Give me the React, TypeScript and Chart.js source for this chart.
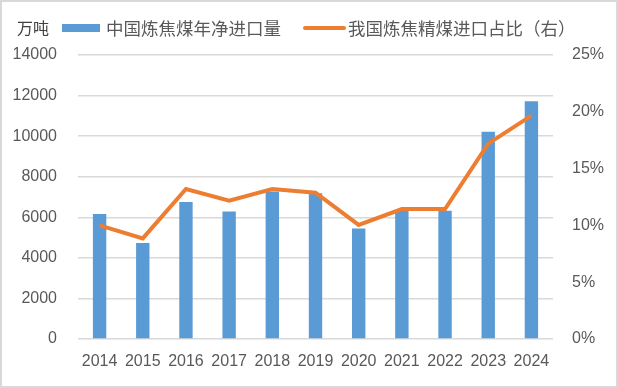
import React, { useEffect, useRef } from "react";
import { Chart, registerables } from "chart.js";

Chart.register(...registerables);

const years = ["2014", "2015", "2016", "2017", "2018", "2019", "2020", "2021", "2022", "2023", "2024"];
const netImports = [6160, 4730, 6750, 6280, 7270, 7180, 5450, 6310, 6320, 10220, 11720];
const importShare = [0.100, 0.0886, 0.132, 0.1217, 0.132, 0.1288, 0.1004, 0.1144, 0.1144, 0.172, 0.1966];
const barLabel = "中国炼焦煤年净进口量";
const lineLabel = "我国炼焦精煤进口占比（右）";
const unitLabel = "万吨";

const BLUE = "#5B9BD5";
const ORANGE = "#ED7D31";
const TEXT = "#595959";
const GRID = "#D9D9D9";
const CJK = '"Noto Sans CJK SC", "Noto Sans", sans-serif';
const NUM = '"Liberation Sans", Arial, sans-serif';

const legendPlugin = {
  id: "customLegend",
  afterDraw(chart: any) {
    const ctx = chart.ctx;
    ctx.save();
    ctx.textBaseline = "middle";
    ctx.textAlign = "left";
    ctx.fillStyle = "#404040";
    ctx.font = `16px ${CJK}`;
    ctx.fillText(unitLabel, 17, 28);
    ctx.fillStyle = BLUE;
    ctx.fillRect(62, 24, 38, 8);
    ctx.fillStyle = TEXT;
    ctx.font = `17.5px ${CJK}`;
    ctx.fillText(barLabel, 106, 28);
    ctx.strokeStyle = ORANGE;
    ctx.lineWidth = 4;
    ctx.lineCap = "round";
    ctx.beginPath();
    ctx.moveTo(305, 28);
    ctx.lineTo(344, 28);
    ctx.stroke();
    ctx.fillText(lineLabel, 348, 28);
    ctx.restore();
  },
};

export default function App() {
  const ref = useRef<HTMLCanvasElement | null>(null);

  useEffect(() => {
    document.body.style.margin = "0";
    const chart = new Chart(ref.current as HTMLCanvasElement, {
      type: "bar",
      data: {
        labels: years,
        datasets: [
          {
            type: "line",
            label: lineLabel,
            data: importShare,
            yAxisID: "y1",
            borderColor: ORANGE,
            backgroundColor: ORANGE,
            borderWidth: 4,
            pointRadius: 0,
            tension: 0,
            order: 0,
          },
          {
            type: "bar",
            label: barLabel,
            data: netImports,
            yAxisID: "y",
            backgroundColor: BLUE,
            barPercentage: 0.31,
            categoryPercentage: 1,
            order: 1,
          },
        ],
      },
      options: {
        animation: false,
        responsive: false,
        layout: { padding: { top: 55, left: 0, right: 0, bottom: 0 } },
        plugins: { legend: { display: false }, tooltip: { enabled: false } },
        scales: {
          x: {
            grid: { display: false, drawTicks: false },
            border: { display: false },
            ticks: { color: TEXT, font: { family: NUM, size: 16 }, padding: 13, maxRotation: 0 },
            afterFit(axis: any) {
              axis.height = 49;
            },
          },
          y: {
            position: "left",
            min: 0,
            max: 14000,
            ticks: {
              stepSize: 2000,
              color: TEXT,
              font: { family: NUM, size: 16 },
              padding: 21,
              callback: (v: any) => String(v),
            },
            grid: { color: GRID, lineWidth: 1.5, drawTicks: false },
            border: { display: false },
            afterFit(axis: any) {
              axis.width = 78;
            },
          },
          y1: {
            position: "right",
            min: 0,
            max: 0.25,
            ticks: {
              stepSize: 0.05,
              color: TEXT,
              font: { family: NUM, size: 16 },
              padding: 19,
              callback: (v: any) => `${Math.round(Number(v) * 100)}%`,
            },
            grid: { display: false, drawTicks: false },
            border: { display: false },
            afterFit(axis: any) {
              axis.width = 65;
            },
          },
        },
      },
      plugins: [legendPlugin],
    });
    return () => chart.destroy();
  }, []);

  return (
    <div
      style={{
        position: "absolute",
        left: 0,
        top: 0,
        width: 618,
        height: 388,
        boxSizing: "border-box",
        border: "2px solid #D9D9D9",
        background: "#fff",
        overflow: "hidden",
      }}
    >
      <canvas ref={ref} width={618} height={388} style={{ position: "absolute", left: -2, top: -2 }} />
    </div>
  );
}
